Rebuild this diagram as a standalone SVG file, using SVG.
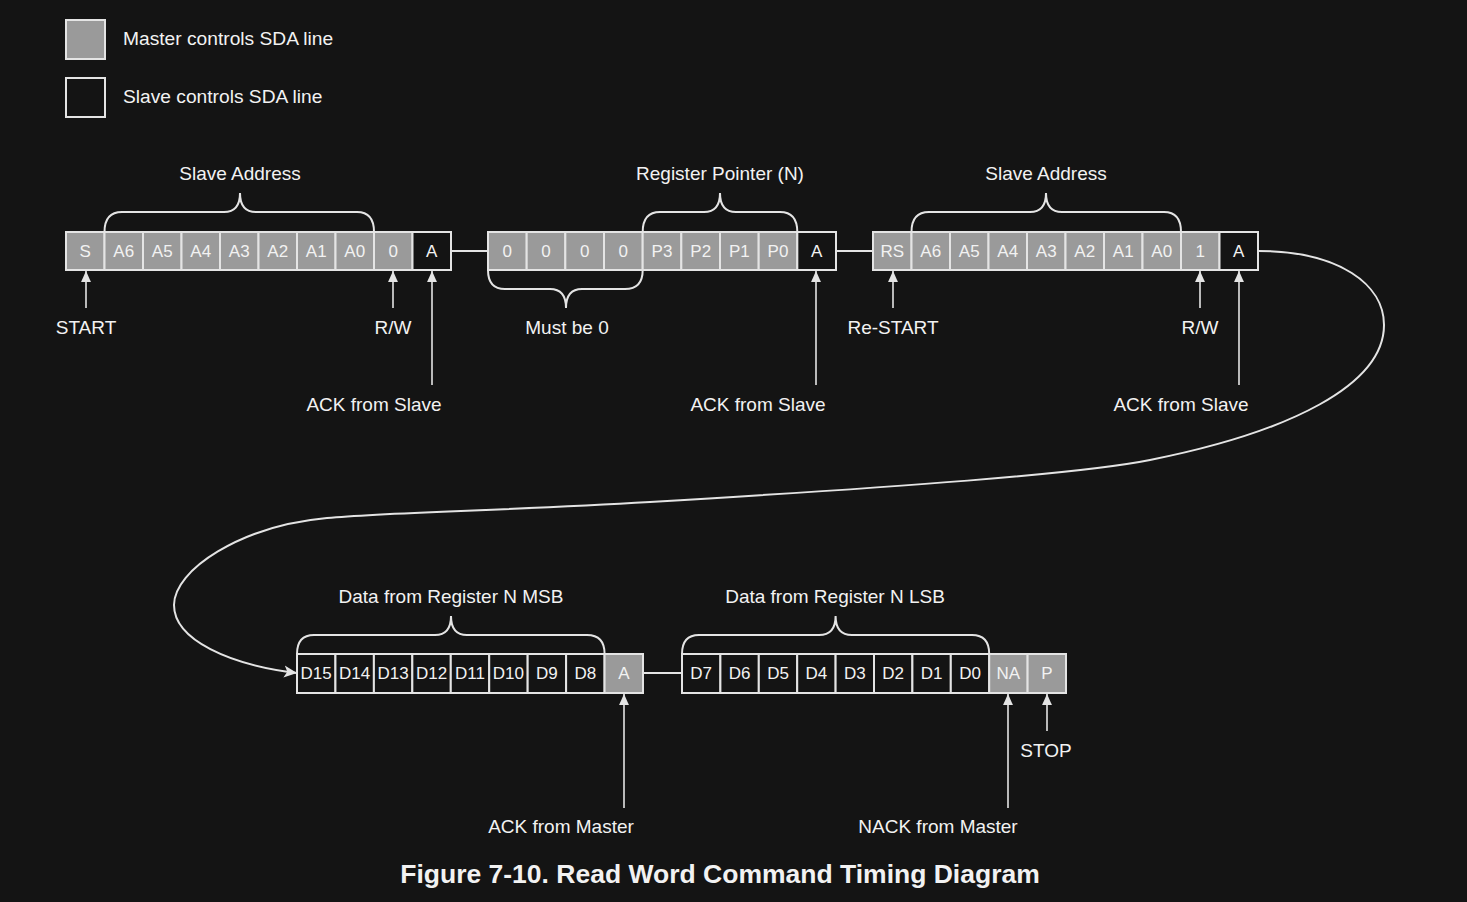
<svg xmlns="http://www.w3.org/2000/svg" width="1467" height="902" viewBox="0 0 1467 902">
<defs>
<style>
.bg{fill:#141414}
.m{fill:#9a9a9a;stroke:#e4e4e4;stroke-width:2}
.s{fill:#141414;stroke:#e4e4e4;stroke-width:2}
.ct{font-family:"Liberation Sans",Arial,sans-serif;font-size:17px;fill:#f2f2f2;text-anchor:middle}
.lb{font-family:"Liberation Sans",Arial,sans-serif;font-size:19px;fill:#f2f2f2;text-anchor:middle}
.ll{font-family:"Liberation Sans",Arial,sans-serif;font-size:19.2px;fill:#f2f2f2}
.br{fill:none;stroke:#e4e4e4;stroke-width:2}
.ln{fill:none;stroke:#e4e4e4;stroke-width:2}
.ar{fill:none;stroke:#e4e4e4;stroke-width:1.6}
.title{font-family:"Liberation Sans",Arial,sans-serif;font-size:26.5px;font-weight:bold;fill:#f2f2f2;text-anchor:middle}
</style>
<marker id="ah" viewBox="0 0 10 10" refX="10" refY="5" markerWidth="11" markerHeight="11" markerUnits="userSpaceOnUse" orient="auto">
<path d="M0,0.5 L10,5 L0,9.5 Z" fill="#e4e4e4"/>
</marker>
<marker id="ah2" viewBox="0 0 12 12" refX="12" refY="6" markerWidth="13" markerHeight="13" markerUnits="userSpaceOnUse" orient="auto">
<path d="M0,0.5 L12,6 L0,11.5 L3,6 Z" fill="#e4e4e4"/>
</marker>
</defs>
<rect class="bg" x="0" y="0" width="1467" height="902"/>

<g id="legend">
<g id="legend-master"><rect class="m" x="66" y="20" width="39" height="39"/><text class="ll" x="123" y="45">Master controls SDA line</text></g>
<g id="legend-slave"><rect class="s" x="66" y="78" width="39" height="39"/><text class="ll" x="123" y="103">Slave controls SDA line</text></g>
</g>

<g id="frame1">
<g id="f1-S"><rect class="m" x="66" y="232" width="38.5" height="38"/><text class="ct" x="85.25" y="257">S</text></g>
<g id="f1-A6"><rect class="m" x="104.5" y="232" width="38.5" height="38"/><text class="ct" x="123.75" y="257">A6</text></g>
<g id="f1-A5"><rect class="m" x="143" y="232" width="38.5" height="38"/><text class="ct" x="162.25" y="257">A5</text></g>
<g id="f1-A4"><rect class="m" x="181.5" y="232" width="38.5" height="38"/><text class="ct" x="200.75" y="257">A4</text></g>
<g id="f1-A3"><rect class="m" x="220" y="232" width="38.5" height="38"/><text class="ct" x="239.25" y="257">A3</text></g>
<g id="f1-A2"><rect class="m" x="258.5" y="232" width="38.5" height="38"/><text class="ct" x="277.75" y="257">A2</text></g>
<g id="f1-A1"><rect class="m" x="297" y="232" width="38.5" height="38"/><text class="ct" x="316.25" y="257">A1</text></g>
<g id="f1-A0"><rect class="m" x="335.5" y="232" width="38.5" height="38"/><text class="ct" x="354.75" y="257">A0</text></g>
<g id="f1-RW"><rect class="m" x="374" y="232" width="38.5" height="38"/><text class="ct" x="393.25" y="257">0</text></g>
<g id="f1-ACK"><rect class="s" x="412.5" y="232" width="38.5" height="38"/><text class="ct" x="431.75" y="257">A</text></g>
</g>

<g id="frame2">
<g id="f2-b7"><rect class="m" x="488" y="232" width="38.67" height="38"/><text class="ct" x="507.3" y="257">0</text></g>
<g id="f2-b6"><rect class="m" x="526.67" y="232" width="38.67" height="38"/><text class="ct" x="546" y="257">0</text></g>
<g id="f2-b5"><rect class="m" x="565.33" y="232" width="38.67" height="38"/><text class="ct" x="584.7" y="257">0</text></g>
<g id="f2-b4"><rect class="m" x="604" y="232" width="38.67" height="38"/><text class="ct" x="623.3" y="257">0</text></g>
<g id="f2-P3"><rect class="m" x="642.67" y="232" width="38.67" height="38"/><text class="ct" x="662" y="257">P3</text></g>
<g id="f2-P2"><rect class="m" x="681.33" y="232" width="38.67" height="38"/><text class="ct" x="700.7" y="257">P2</text></g>
<g id="f2-P1"><rect class="m" x="720" y="232" width="38.67" height="38"/><text class="ct" x="739.3" y="257">P1</text></g>
<g id="f2-P0"><rect class="m" x="758.67" y="232" width="38.67" height="38"/><text class="ct" x="778" y="257">P0</text></g>
<g id="f2-ACK"><rect class="s" x="797.33" y="232" width="38.67" height="38"/><text class="ct" x="816.7" y="257">A</text></g>
</g>

<g id="frame3">
<g id="f3-RS"><rect class="m" x="873" y="232" width="38.5" height="38"/><text class="ct" x="892.25" y="257">RS</text></g>
<g id="f3-A6"><rect class="m" x="911.5" y="232" width="38.5" height="38"/><text class="ct" x="930.75" y="257">A6</text></g>
<g id="f3-A5"><rect class="m" x="950" y="232" width="38.5" height="38"/><text class="ct" x="969.25" y="257">A5</text></g>
<g id="f3-A4"><rect class="m" x="988.5" y="232" width="38.5" height="38"/><text class="ct" x="1007.75" y="257">A4</text></g>
<g id="f3-A3"><rect class="m" x="1027" y="232" width="38.5" height="38"/><text class="ct" x="1046.25" y="257">A3</text></g>
<g id="f3-A2"><rect class="m" x="1065.5" y="232" width="38.5" height="38"/><text class="ct" x="1084.75" y="257">A2</text></g>
<g id="f3-A1"><rect class="m" x="1104" y="232" width="38.5" height="38"/><text class="ct" x="1123.25" y="257">A1</text></g>
<g id="f3-A0"><rect class="m" x="1142.5" y="232" width="38.5" height="38"/><text class="ct" x="1161.75" y="257">A0</text></g>
<g id="f3-RW"><rect class="m" x="1181" y="232" width="38.5" height="38"/><text class="ct" x="1200.25" y="257">1</text></g>
<g id="f3-ACK"><rect class="s" x="1219.5" y="232" width="38.5" height="38"/><text class="ct" x="1238.75" y="257">A</text></g>
</g>

<g id="frame4">
<g id="f4-D15"><rect class="s" x="297" y="654" width="38.44" height="39"/><text class="ct" x="316.2" y="679">D15</text></g>
<g id="f4-D14"><rect class="s" x="335.44" y="654" width="38.44" height="39"/><text class="ct" x="354.7" y="679">D14</text></g>
<g id="f4-D13"><rect class="s" x="373.89" y="654" width="38.44" height="39"/><text class="ct" x="393.1" y="679">D13</text></g>
<g id="f4-D12"><rect class="s" x="412.33" y="654" width="38.44" height="39"/><text class="ct" x="431.6" y="679">D12</text></g>
<g id="f4-D11"><rect class="s" x="450.78" y="654" width="38.44" height="39"/><text class="ct" x="470" y="679">D11</text></g>
<g id="f4-D10"><rect class="s" x="489.22" y="654" width="38.44" height="39"/><text class="ct" x="508.4" y="679">D10</text></g>
<g id="f4-D9"><rect class="s" x="527.67" y="654" width="38.44" height="39"/><text class="ct" x="546.9" y="679">D9</text></g>
<g id="f4-D8"><rect class="s" x="566.11" y="654" width="38.44" height="39"/><text class="ct" x="585.3" y="679">D8</text></g>
<g id="f4-ACK"><rect class="m" x="604.56" y="654" width="38.44" height="39"/><text class="ct" x="623.8" y="679">A</text></g>
</g>

<g id="frame5">
<g id="f5-D7"><rect class="s" x="682" y="654" width="38.4" height="39"/><text class="ct" x="701.2" y="679">D7</text></g>
<g id="f5-D6"><rect class="s" x="720.4" y="654" width="38.4" height="39"/><text class="ct" x="739.6" y="679">D6</text></g>
<g id="f5-D5"><rect class="s" x="758.8" y="654" width="38.4" height="39"/><text class="ct" x="778" y="679">D5</text></g>
<g id="f5-D4"><rect class="s" x="797.2" y="654" width="38.4" height="39"/><text class="ct" x="816.4" y="679">D4</text></g>
<g id="f5-D3"><rect class="s" x="835.6" y="654" width="38.4" height="39"/><text class="ct" x="854.8" y="679">D3</text></g>
<g id="f5-D2"><rect class="s" x="874" y="654" width="38.4" height="39"/><text class="ct" x="893.2" y="679">D2</text></g>
<g id="f5-D1"><rect class="s" x="912.4" y="654" width="38.4" height="39"/><text class="ct" x="931.6" y="679">D1</text></g>
<g id="f5-D0"><rect class="s" x="950.8" y="654" width="38.4" height="39"/><text class="ct" x="970" y="679">D0</text></g>
<g id="f5-NA"><rect class="m" x="989.2" y="654" width="38.4" height="39"/><text class="ct" x="1008.4" y="679">NA</text></g>
<g id="f5-P"><rect class="m" x="1027.6" y="654" width="38.4" height="39"/><text class="ct" x="1046.8" y="679">P</text></g>
</g>

<g id="braces">
<g id="brace-slave-address-1"><path class="br" d="M104.5,232 Q104.5,212 122,212 L224,212 Q240,212 240,193 Q240,212 256,212 L357,212 Q374,212 374,232"/><text class="lb" x="240" y="180">Slave Address</text></g>
<g id="brace-register-pointer"><path class="br" d="M642.7,232 Q642.7,212 660,212 L704,212 Q720,212 720,193 Q720,212 736,212 L780,212 Q797.3,212 797.3,232"/><text class="lb" x="720" y="180">Register Pointer (N)</text></g>
<g id="brace-must-be-0"><path class="br" d="M488,270 Q488,289 505,289 L550,289 Q566,289 566,308 Q566,289 582,289 L625,289 Q642.7,289 642.7,270"/><text class="lb" x="567" y="334">Must be 0</text></g>
<g id="brace-slave-address-2"><path class="br" d="M911.5,232 Q911.5,212 929,212 L1030,212 Q1046,212 1046,193 Q1046,212 1062,212 L1164,212 Q1181,212 1181,232"/><text class="lb" x="1046" y="180">Slave Address</text></g>
<g id="brace-msb"><path class="br" d="M297,654 Q297,635 314,635 L435,635 Q451,635 451,616 Q451,635 467,635 L587,635 Q604.6,635 604.6,654"/><text class="lb" x="451" y="603">Data from Register N MSB</text></g>
<g id="brace-lsb"><path class="br" d="M682,654 Q682,635 699,635 L819,635 Q835.6,635 835.6,616 Q835.6,635 852,635 L972,635 Q989.2,635 989.2,654"/><text class="lb" x="835" y="603">Data from Register N LSB</text></g>
</g>

<g id="labels">
<text class="lb" x="86" y="334">START</text>
<text class="lb" x="393" y="334">R/W</text>
<text class="lb" x="374" y="411">ACK from Slave</text>
<text class="lb" x="758" y="411">ACK from Slave</text>
<text class="lb" x="893" y="334">Re-START</text>
<text class="lb" x="1200" y="334">R/W</text>
<text class="lb" x="1181" y="411">ACK from Slave</text>
<text class="lb" x="561" y="833">ACK from Master</text>
<text class="lb" x="938" y="833">NACK from Master</text>
<text class="lb" x="1046" y="757">STOP</text>
</g>

<g id="connectors">
<line class="ln" x1="451" y1="251" x2="488" y2="251"/>
<line class="ln" x1="836" y1="251" x2="873" y2="251"/>
<line class="ln" x1="643" y1="673" x2="682" y2="673"/>
<path class="ln" marker-end="url(#ah2)" d="M1258,251 C1340,251 1384,285 1384,325 C1384,385 1290,432 1150,460 C1080,474 900,487 650,502 C500,511 390,512 327,518 C240,526 174,570 174,605 C174,640 230,665 297,673"/>
<line class="ar" marker-end="url(#ah)" x1="86" y1="308" x2="86" y2="271"/>
<line class="ar" marker-end="url(#ah)" x1="393" y1="308" x2="393" y2="271"/>
<line class="ar" marker-end="url(#ah)" x1="432" y1="385" x2="432" y2="271"/>
<line class="ar" marker-end="url(#ah)" x1="816" y1="385" x2="816" y2="271"/>
<line class="ar" marker-end="url(#ah)" x1="893" y1="308" x2="893" y2="271"/>
<line class="ar" marker-end="url(#ah)" x1="1200" y1="308" x2="1200" y2="271"/>
<line class="ar" marker-end="url(#ah)" x1="1239" y1="385" x2="1239" y2="271"/>
<line class="ar" marker-end="url(#ah)" x1="624" y1="808" x2="624" y2="694"/>
<line class="ar" marker-end="url(#ah)" x1="1008" y1="808" x2="1008" y2="694"/>
<line class="ar" marker-end="url(#ah)" x1="1047" y1="731" x2="1047" y2="694"/>
</g>

<text class="title" x="720" y="883">Figure 7-10. Read Word Command Timing Diagram</text>
</svg>
